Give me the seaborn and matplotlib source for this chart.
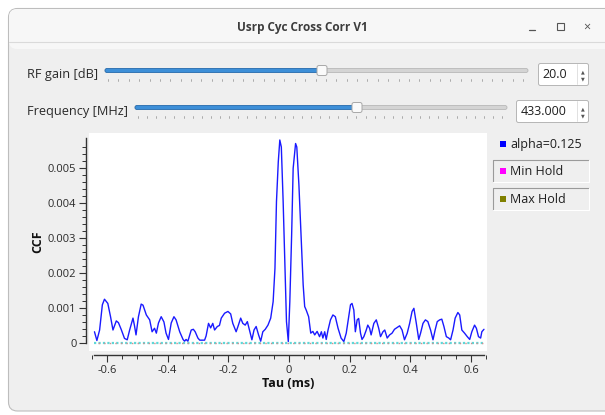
import numpy as np
import matplotlib
matplotlib.use('Agg')
import matplotlib.pyplot as plt
import seaborn as sns
from matplotlib.patches import FancyBboxPatch, Rectangle
from matplotlib.ticker import MultipleLocator, FuncFormatter, FixedLocator

# Cross correlation trace (tau in ms)
tau = [-0.641, -0.633, -0.624, -0.615, -0.608, -0.597, -0.588, -0.580, -0.569, -0.562,
       -0.553, -0.542, -0.533, -0.525, -0.514, -0.509, -0.504, -0.496, -0.487, -0.481,
       -0.470, -0.459, -0.451, -0.443, -0.437, -0.430, -0.421, -0.412, -0.405, -0.397,
       -0.388, -0.379, -0.372, -0.360, -0.349, -0.344, -0.339, -0.333, -0.322, -0.315,
       -0.309, -0.300, -0.294, -0.278, -0.273, -0.265, -0.258, -0.251, -0.245, -0.236,
       -0.229, -0.223, -0.212, -0.201, -0.192, -0.185, -0.174, -0.168, -0.159, -0.152,
       -0.144, -0.137, -0.130, -0.122, -0.115, -0.108, -0.100, -0.093, -0.086, -0.078,
       -0.069, -0.060, -0.056, -0.052, -0.046, -0.041, -0.035, -0.030, -0.025, -0.019,
       -0.013, -0.008, -0.002, 0.003, 0.009, 0.014, 0.022, 0.026, 0.033, 0.040,
       0.047, 0.052, 0.057, 0.065, 0.072, 0.079, 0.085, 0.093, 0.101, 0.107,
       0.112, 0.118, 0.123, 0.129, 0.137, 0.145, 0.153, 0.162, 0.172, 0.181,
       0.189, 0.197, 0.203, 0.208, 0.214, 0.219, 0.225, 0.230, 0.236, 0.241,
       0.247, 0.255, 0.260, 0.266, 0.271, 0.280, 0.288, 0.296, 0.302, 0.310,
       0.316, 0.324, 0.332, 0.340, 0.348, 0.365, 0.373, 0.381, 0.390, 0.398,
       0.406, 0.412, 0.420, 0.428, 0.434, 0.442, 0.450, 0.458, 0.467, 0.475,
       0.482, 0.489, 0.497, 0.504, 0.511, 0.519, 0.527, 0.533, 0.541, 0.548,
       0.557, 0.563, 0.570, 0.579, 0.588, 0.596, 0.603, 0.612, 0.618, 0.625,
       0.632, 0.636, 0.643]
ccf = [0.00032, 0.00007, 0.00037, 0.00109, 0.00125, 0.00113, 0.00075, 0.00037, 0.00063, 0.00058,
       0.00039, 0.00013, 0.00009, 0.00037, 0.00071, 0.00049, 0.00023, 0.00075, 0.00111, 0.00108,
       0.00080, 0.00066, 0.00032, 0.00042, 0.00028, 0.00057, 0.00075, 0.00060, 0.00028, 0.00010,
       0.00057, 0.00075, 0.00066, 0.00032, 0.00010, 0.00005, 0.00010, 0.00005, 0.00037, 0.00039,
       0.00032, 0.00014, 0.00008, 0.00008, 0.00020, 0.00056, 0.00043, 0.00056, 0.00037, 0.00047,
       0.00050, 0.00071, 0.00085, 0.00090, 0.00083, 0.00056, 0.00032, 0.00047, 0.00071, 0.00056,
       0.00051, 0.00061, 0.00037, 0.00009, 0.00037, 0.00047, 0.00023, 0.00005, 0.00032, 0.00039,
       0.00051, 0.00071, 0.00094, 0.00118, 0.00213, 0.00404, 0.00518, 0.00580, 0.00560, 0.00404,
       0.00214, 0.00061, 0.00004, 0.00118, 0.00309, 0.00499, 0.00570, 0.00560, 0.00451, 0.00309,
       0.00166, 0.00104, 0.00094, 0.00075, 0.00028, 0.00033, 0.00023, 0.00033, 0.00018, 0.00032,
       0.00014, 0.00032, 0.00010, 0.00037, 0.00066, 0.00080, 0.00075, 0.00042, 0.00014, 0.00004,
       0.00028, 0.00075, 0.00109, 0.00113, 0.00094, 0.00032, 0.00066, 0.00070, 0.00028, 0.00010,
       0.00018, 0.00037, 0.00051, 0.00042, 0.00023, 0.00056, 0.00066, 0.00042, 0.00018, 0.00032,
       0.00037, 0.00014, 0.00023, 0.00028, 0.00039, 0.00049, 0.00037, 0.00009, 0.00028, 0.00056,
       0.00090, 0.00099, 0.00056, 0.00010, 0.00028, 0.00056, 0.00066, 0.00061, 0.00037, 0.00009,
       0.00037, 0.00061, 0.00066, 0.00068, 0.00047, 0.00018, 0.00014, 0.00009, 0.00037, 0.00071,
       0.00087, 0.00080, 0.00037, 0.00028, 0.00018, 0.00010, 0.00032, 0.00051, 0.00042, 0.00018,
       0.00014, 0.00032, 0.00039]

# hold curves sit flat on zero
min_hold_level = 0.0
max_hold_level = 0.0

x_ticks = [-0.6, -0.4, -0.2, 0.0, 0.2, 0.4, 0.6]
y_ticks = [0.0, 0.001, 0.002, 0.003, 0.004, 0.005]

legend_labels = ['alpha=0.125', 'Min Hold', 'Max Hold']
legend_colors = ['#0000ff', '#ff00ff', '#808000']

window_title = 'Usrp Cyc Cross Corr V1'
slider_labels = ['RF gain [dB]', 'Frequency [MHz]']
slider_values = ['20.0', '433.000']

sns.set_theme(style='white')
FONT = ['Open Sans', 'DejaVu Sans']
plt.rcParams['font.family'] = FONT

fig = plt.figure(figsize=(6.05, 4.15), dpi=100)
fig.patch.set_facecolor('white')

# --- window chrome, drawn in pixel coords ---
bg = fig.add_axes([0, 0, 1, 1], zorder=0)
bg.set_xlim(0, 605)
bg.set_ylim(415, 0)
bg.axis('off')

bg.add_patch(FancyBboxPatch((8.5, 8.5), 620, 402.5, boxstyle='round,pad=0,rounding_size=9',
                            fc='#efefef', ec='#bdbdbd', lw=0.8))
bg.add_patch(FancyBboxPatch((9, 9), 620, 40, boxstyle='round,pad=0,rounding_size=8',
                            fc='#f7f7f7', ec='none'))
bg.add_patch(Rectangle((9, 30), 620, 12, fc='#f7f7f7', ec='none'))
bg.plot([9, 605], [42, 42], color='#dadada', lw=0.8)
bg.text(302, 27, window_title, ha='center', va='center', fontsize=8.5,
        fontweight='bold', color='#3c3c3c')
bg.plot([529, 535], [30.5, 30.5], color='#555555', lw=0.9)
bg.add_patch(Rectangle((556.5, 23.5), 7, 7, fc='none', ec='#555555', lw=0.8))
bg.text(587, 27, '×', ha='center', va='center', fontsize=9, color='#555555')


def draw_slider(y, x0, x1, xh, label, value, box_x0):
    bg.text(27, y + 4, label, ha='left', va='center', fontsize=9.2, color='#2a2a2a')
    bg.add_patch(FancyBboxPatch((x0, y - 2), x1 - x0, 4, boxstyle='round,pad=0,rounding_size=2',
                                fc='#d4d4d4', ec='#b8b8b8', lw=0.6))
    bg.add_patch(FancyBboxPatch((x0, y - 2), xh - x0, 4, boxstyle='round,pad=0,rounding_size=2',
                                fc='#3d8fd8', ec='#2a6fb0', lw=0.6))
    bg.add_patch(FancyBboxPatch((xh - 5, y - 5), 10, 10, boxstyle='round,pad=0,rounding_size=2',
                                fc='#fafafa', ec='#a8a8a8', lw=0.7, zorder=3))
    for tx in np.linspace(x0 + 3, x1 - 5, 41):
        bg.plot([tx, tx], [y + 9, y + 11], color='#a0a0a0', lw=0.6)
    bg.add_patch(FancyBboxPatch((box_x0, y - 7), 588.5 - box_x0, 22,
                                boxstyle='round,pad=0,rounding_size=2',
                                fc='white', ec='#b5b5b5', lw=0.7))
    bg.plot([577, 577], [y - 6, y + 14], color='#dcdcdc', lw=0.6)
    bg.text(box_x0 + 4, y + 4, value, ha='left', va='center', fontsize=9, color='#1e1e1e')
    bg.text(582.5, y + 1, '▲', ha='center', va='center', fontsize=3.5, color='#555555')
    bg.text(582.5, y + 8, '▼', ha='center', va='center', fontsize=3.5, color='#555555')


draw_slider(70.5, 105, 528, 322, slider_labels[0], slider_values[0], 538.5)
draw_slider(107.5, 135, 507, 357, slider_labels[1], slider_values[1], 516.5)

# legend entries on the right
bg.add_patch(Rectangle((499.5, 140.5), 6, 6, fc=legend_colors[0], ec='none'))
bg.text(510, 144, legend_labels[0], ha='left', va='center', fontsize=9, color='#1e1e1e')
for i, yb in enumerate([160, 188]):
    bg.plot([493, 493, 589], [yb + 22, yb, yb], color='#9a9a9a', lw=0.8)
    bg.plot([493, 589, 589], [yb + 22, yb + 22, yb], color='#ffffff', lw=0.8)
    bg.add_patch(Rectangle((499.5, yb + 8), 6, 6, fc=legend_colors[i + 1], ec='none'))
    bg.text(510, yb + 11, legend_labels[i + 1], ha='left', va='center', fontsize=9,
            color='#1e1e1e')

# --- plot canvas ---
ax = fig.add_axes([89 / 605, 1 - 351 / 415, (487 - 89) / 605, (351 - 133) / 415], zorder=2)
ax.set_facecolor('white')

sns.lineplot(x=tau, y=ccf, ax=ax, color='#1a1aff', lw=1.0, estimator=None, sort=False)
ax.hlines(max_hold_level, tau[0], tau[-1], colors='#5fd7d7', lw=1.6, linestyles=(0, (1, 1)))
ax.hlines(min_hold_level, tau[0], tau[-1], colors='#d08f8f', lw=1.0, linestyles=(1, (1, 3)))

ax.set_xlim(-0.659, 0.653)
ax.set_ylim(-0.00023, 0.006)

for side in ['top', 'right']:
    ax.spines[side].set_visible(False)
ax.spines['left'].set_position(('outward', 2))
ax.spines['bottom'].set_position(('outward', 3))
ax.spines['left'].set_bounds(0, 0.00586)
ax.spines['bottom'].set_bounds(-0.643, 0.643)
for side in ['left', 'bottom']:
    ax.spines[side].set_color('#333333')
    ax.spines[side].set_linewidth(1.0)

ax.xaxis.set_major_locator(FixedLocator(x_ticks))
ax.xaxis.set_minor_locator(MultipleLocator(0.05))
ax.yaxis.set_major_locator(FixedLocator(y_ticks))
ax.yaxis.set_minor_locator(FixedLocator(np.arange(0, 29) * 0.0002))
ax.xaxis.set_major_formatter(FuncFormatter(lambda v, p: '0' if abs(v) < 1e-9 else f'{v:g}'))
ax.yaxis.set_major_formatter(FuncFormatter(lambda v, p: '0' if abs(v) < 1e-12 else f'{v:.3f}'))
ax.tick_params(which='major', direction='out', length=5, width=0.8, color='#333333',
               labelsize=8, labelcolor='#2a2a2a', left=True, bottom=True, pad=2)
ax.tick_params(which='minor', direction='out', length=3, width=0.7, color='#333333',
               left=True, bottom=True)

ax.set_xlabel('Tau (ms)', fontsize=9, fontweight='bold', color='#111111', labelpad=1)
ax.set_ylabel('CCF', fontsize=9, fontweight='bold', color='#111111', labelpad=3)

fig.savefig('out.png', dpi=100, facecolor=fig.get_facecolor())
